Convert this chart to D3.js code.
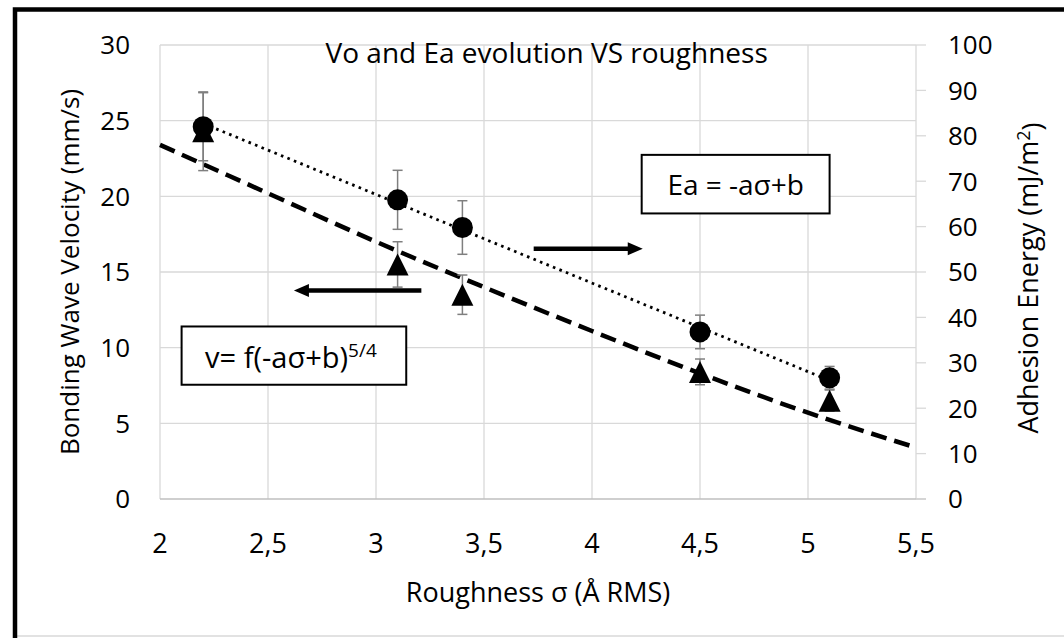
<!DOCTYPE html>
<html>
<head>
<meta charset="utf-8">
<script src="https://cdn.jsdelivr.net/npm/d3@7"></script>
<style>
  body { margin: 0; background: #fff; }
  text { font-family: "Open Sans", sans-serif; fill: #000; }
</style>
</head>
<body>
<svg id="chart"></svg>
<script>
// measured points
var sigma = [2.2, 3.1, 3.4, 4.5, 5.1];
var velocity = [24.3, 15.5, 13.5, 8.4, 6.5];
var velocityErr = [2.6, 1.5, 1.3, 0.85, 0.7];
var energy = [82, 65.9, 59.8, 36.8, 26.7];
var energyErr = [7.5, 6.5, 5.9, 3.7, 2.5];

// linear fit of Ea (dotted) and model curve of v (dashed)
var fitSigma = [2.2, 5.1];
var fitEnergy = [82.7, 26.1];
var modelSigma = [2, 2.5, 3, 3.5, 4, 4.5, 5, 5.5];
var modelVelocity = [23.4, 20.2, 17.0, 14.0, 11.1, 8.3, 5.7, 3.4];

var xTicks = [2, 2.5, 3, 3.5, 4, 4.5, 5, 5.5];
var leftTicks = [0, 5, 10, 15, 20, 25, 30];
var rightTicks = [0, 10, 20, 30, 40, 50, 60, 70, 80, 90, 100];

var W = 1064, H = 638;
var margin = {top: 45, right: 148, bottom: 139, left: 160},
    width = W - margin.left - margin.right,
    height = H - margin.top - margin.bottom;

var svg = d3.select("#chart").attr("width", W).attr("height", H);

// frame
svg.append("rect").attr("x", 0).attr("y", 0).attr("width", W).attr("height", H).attr("fill", "#fff");
svg.append("line").attr("x1", 17).attr("x2", W).attr("y1", 636).attr("y2", 636)
    .attr("stroke", "#d9d9d9").attr("stroke-width", 1.5);
svg.append("path").attr("d", "M15," + H + "V9.5H" + (W + 5))
    .attr("fill", "none").attr("stroke", "#000").attr("stroke-width", 4.5);

var g = svg.append("g").attr("transform", "translate(" + margin.left + "," + margin.top + ")");

var x = d3.scaleLinear().domain([2, 5.5]).range([0, width]);
var yL = d3.scaleLinear().domain([0, 30]).range([height, 0]);
var yR = d3.scaleLinear().domain([0, 100]).range([height, 0]);

var fmt = function(d) { return String(d).replace(".", ","); };

// gridlines
g.append("g").selectAll("line").data(leftTicks.slice(1)).join("line")
    .attr("x1", 0).attr("x2", width)
    .attr("y1", function(d) { return yL(d); }).attr("y2", function(d) { return yL(d); })
    .attr("stroke", "#d9d9d9").attr("stroke-width", 1.3);
g.append("g").selectAll("line").data(xTicks).join("line")
    .attr("x1", function(d) { return x(d); }).attr("x2", function(d) { return x(d); })
    .attr("y1", 0).attr("y2", height)
    .attr("stroke", "#d9d9d9").attr("stroke-width", 1.3);

// x axis line and right-axis ticks
g.append("line").attr("x1", 0).attr("x2", width + 10).attr("y1", height).attr("y2", height)
    .attr("stroke", "#bfbfbf").attr("stroke-width", 1.5);
g.append("g").selectAll("line").data(rightTicks).join("line")
    .attr("x1", width).attr("x2", width + 10)
    .attr("y1", function(d) { return yR(d); }).attr("y2", function(d) { return yR(d); })
    .attr("stroke", "#d9d9d9").attr("stroke-width", 1.3);

// tick labels
g.append("g").selectAll("text").data(leftTicks).join("text")
    .attr("x", -30).attr("y", function(d) { return yL(d); }).attr("dy", "0.36em")
    .attr("text-anchor", "end").style("font-size", "26px").text(fmt);
g.append("g").selectAll("text").data(rightTicks).join("text")
    .attr("x", width + 32).attr("y", function(d) { return yR(d); }).attr("dy", "0.36em")
    .attr("text-anchor", "start").style("font-size", "26px").text(fmt);
g.append("g").selectAll("text").data(xTicks).join("text")
    .attr("x", function(d) { return x(d); }).attr("y", height + 54)
    .attr("text-anchor", "middle").style("font-size", "27px").text(fmt);

// axis titles
g.append("text").attr("transform", "translate(" + (width / 2) + "," + (height + 103) + ")")
    .attr("text-anchor", "middle").style("font-size", "27px").text("Roughness σ (Å RMS)");
g.append("text").attr("transform", "translate(-81," + (height / 2) + ") rotate(-90)")
    .attr("text-anchor", "middle").style("font-size", "26px").text("Bonding Wave Velocity (mm/s)");
var rt = g.append("text").attr("transform", "translate(" + (width + 122) + "," + (height / 2 + 6) + ") rotate(-90)")
    .attr("text-anchor", "middle").style("font-size", "27px");
rt.append("tspan").text("Adhesion Energy (mJ/m");
rt.append("tspan").attr("dy", "-0.45em").style("font-size", "18px").text("2");
rt.append("tspan").attr("dy", "0.45em").text(")");

// chart title
g.append("text").attr("x", x(3.79)).attr("y", 18).attr("text-anchor", "middle")
    .style("font-size", "28px").text("Vo and Ea evolution VS roughness");

// dashed model curve (left axis)
var modelLine = d3.line().curve(d3.curveMonotoneX)
    .x(function(d, i) { return x(modelSigma[i]); })
    .y(function(d) { return yL(d); });
g.append("path").datum(modelVelocity).attr("d", modelLine)
    .attr("fill", "none").attr("stroke", "#000").attr("stroke-width", 4.5)
    .attr("stroke-dasharray", "16 8");

// dotted linear fit (right axis)
var fitLine = d3.line()
    .x(function(d, i) { return x(fitSigma[i]); })
    .y(function(d) { return yR(d); });
g.append("path").datum(fitEnergy).attr("d", fitLine)
    .attr("fill", "none").attr("stroke", "#000").attr("stroke-width", 2.8)
    .attr("stroke-dasharray", "2.6 4.4");

// error bars
function errorBars(vals, errs, y) {
    var eb = g.append("g").attr("stroke", "#7f7f7f").attr("stroke-width", 1.5);
    vals.forEach(function(v, i) {
        var cx = x(sigma[i]), top = y(v + errs[i]), bot = y(v - errs[i]);
        eb.append("line").attr("x1", cx).attr("x2", cx).attr("y1", top).attr("y2", bot);
        eb.append("line").attr("x1", cx - 5).attr("x2", cx + 5).attr("y1", top).attr("y2", top);
        eb.append("line").attr("x1", cx - 5).attr("x2", cx + 5).attr("y1", bot).attr("y2", bot);
    });
}
errorBars(velocity, velocityErr, yL);
errorBars(energy, energyErr, yR);

// markers
g.append("g").selectAll("path").data(velocity).join("path")
    .attr("transform", function(d, i) { return "translate(" + x(sigma[i]) + "," + yL(d) + ")"; })
    .attr("d", "M0,-11L11,11L-11,11Z").attr("fill", "#000");
g.append("g").selectAll("circle").data(energy).join("circle")
    .attr("cx", function(d, i) { return x(sigma[i]); })
    .attr("cy", function(d) { return yR(d); })
    .attr("r", 10.5).attr("fill", "#000");

// arrows
function arrow(x1, x2, yy) {
    var dir = x2 > x1 ? 1 : -1;
    g.append("line").attr("x1", x1).attr("x2", x2 - dir * 12).attr("y1", yy).attr("y2", yy)
        .attr("stroke", "#000").attr("stroke-width", 4.5);
    g.append("path")
        .attr("d", "M" + x2 + "," + yy + "L" + (x2 - dir * 15) + "," + (yy - 6.5) + "L" + (x2 - dir * 15) + "," + (yy + 6.5) + "Z")
        .attr("fill", "#000");
}
arrow(x(3.73), x(4.235), yR(55.1));
arrow(x(3.21), x(2.62), yL(13.77));

// text boxes
function box(x0, x1, y0, y1) {
    g.append("rect").attr("x", x0).attr("y", y0).attr("width", x1 - x0).attr("height", y1 - y0)
        .attr("fill", "#fff").attr("stroke", "#000").attr("stroke-width", 2);
}
box(x(4.23), x(5.1), yR(75.8), yR(62.9));
g.append("text").attr("x", (x(4.23) + x(5.1)) / 2).attr("y", yR(62.9) - 18)
    .attr("text-anchor", "middle").style("font-size", "28px").text("Ea = -aσ+b");

box(x(2.1), x(3.14), yL(11.4), yL(7.55));
var vt = g.append("text").attr("x", (x(2.1) + x(3.14)) / 2 - 3).attr("y", yL(7.55) - 17)
    .attr("text-anchor", "middle").style("font-size", "29px");
vt.append("tspan").text("v= f(-aσ+b)");
vt.append("tspan").attr("dy", "-0.55em").style("font-size", "19px").text("5/4");
</script>
</body>
</html>
